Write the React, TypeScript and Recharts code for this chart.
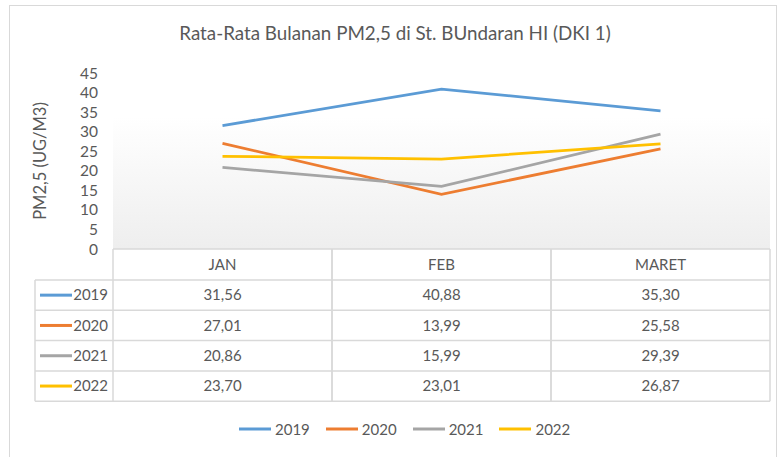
import React from 'react';
import { LineChart, Line, XAxis, YAxis, Legend, CartesianGrid } from 'recharts';

const TITLE = 'Rata-Rata Bulanan PM2,5 di St. BUndaran HI (DKI 1)';
const Y_LABEL = 'PM2,5 (UG/M3)';
const CATEGORIES = ['JAN', 'FEB', 'MARET'];
const YEARS = ['2019', '2020', '2021', '2022'];
const V2019 = [31.56, 40.88, 35.3];
const V2020 = [27.01, 13.99, 25.58];
const V2021 = [20.86, 15.99, 29.39];
const V2022 = [23.7, 23.01, 26.87];
const SERIES_VALUES = [V2019, V2020, V2021, V2022];
const COLORS = ['#5B9BD5', '#ED7D31', '#A5A5A5', '#FFC000'];
const Y_TICKS = [0, 5, 10, 15, 20, 25, 30, 35, 40, 45];

const data = CATEGORIES.map((c, i) => {
  const row: Record<string, string | number> = { name: c };
  YEARS.forEach((y, s) => {
    row[y] = SERIES_VALUES[s][i];
  });
  return row;
});

const W = 782;
const H = 457;
const FONT = 'Lato, "Open Sans", sans-serif';
const TEXT = '#595959';
const GRID = '#d9d9d9';
const MARGIN = { top: 73, right: 12, bottom: 55, left: 0 };
const Y_AXIS_W = 113;
const X_AXIS_H = 153;
const PLOT_LEFT = MARGIN.left + Y_AXIS_W;
const PLOT_W = W - MARGIN.right - PLOT_LEFT;
const TABLE_TOP = H - MARGIN.bottom - X_AXIS_H;
const HEADER_H = 31;
const ROW_H = 30.3;
const KEY_LEFT = 35;

const fmt = (v: number) => v.toFixed(2).replace('.', ',');

function TableTick(props: any) {
  const { x, payload } = props;
  const idx = CATEGORIES.indexOf(payload.value);
  const bw = PLOT_W / CATEGORIES.length;
  const left = x - bw / 2;
  const right = x + bw / 2;
  const rowsTop = TABLE_TOP + HEADER_H;
  const bottom = rowsTop + ROW_H * YEARS.length;
  const els: React.ReactNode[] = [];
  els.push(<line key="ht" x1={left} x2={right} y1={TABLE_TOP} y2={TABLE_TOP} stroke={GRID} strokeWidth={1.5} />);
  for (let r = 0; r <= YEARS.length; r++) {
    const yy = rowsTop + r * ROW_H;
    els.push(<line key={'h' + r} x1={left} x2={right} y1={yy} y2={yy} stroke={GRID} strokeWidth={1.5} />);
  }
  els.push(<line key="vl" x1={left} x2={left} y1={TABLE_TOP} y2={bottom} stroke={GRID} strokeWidth={1.5} />);
  els.push(<line key="vr" x1={right} x2={right} y1={TABLE_TOP} y2={bottom} stroke={GRID} strokeWidth={1.5} />);
  els.push(
    <text key="hdr" x={x} y={TABLE_TOP + HEADER_H / 2} dy="0.35em" textAnchor="middle" fontSize={15} fill={TEXT} fontFamily={FONT}>
      {payload.value}
    </text>
  );
  YEARS.forEach((yr, s) => {
    const cy = rowsTop + s * ROW_H + ROW_H / 2;
    els.push(
      <text key={'v' + s} x={x} y={cy} dy="0.35em" textAnchor="middle" fontSize={15} fill={TEXT} fontFamily={FONT}>
        {fmt(SERIES_VALUES[s][idx])}
      </text>
    );
  });
  if (idx === 0) {
    els.push(<line key="kl" x1={KEY_LEFT} x2={KEY_LEFT} y1={rowsTop} y2={bottom} stroke={GRID} strokeWidth={1.5} />);
    for (let r = 0; r <= YEARS.length; r++) {
      const yy = rowsTop + r * ROW_H;
      els.push(<line key={'kh' + r} x1={KEY_LEFT} x2={left} y1={yy} y2={yy} stroke={GRID} strokeWidth={1.5} />);
    }
    YEARS.forEach((yr, s) => {
      const cy = rowsTop + s * ROW_H + ROW_H / 2;
      els.push(<line key={'kk' + s} x1={KEY_LEFT + 5} x2={KEY_LEFT + 37} y1={cy} y2={cy} stroke={COLORS[s]} strokeWidth={3} />);
      els.push(
        <text key={'kt' + s} x={left - 5} y={cy} dy="0.35em" textAnchor="end" fontSize={15} fill={TEXT} fontFamily={FONT}>
          {yr}
        </text>
      );
    });
  }
  return <g>{els}</g>;
}

function LegendContent() {
  return (
    <div style={{ display: 'flex', alignItems: 'center', fontFamily: FONT, fontSize: 15, color: TEXT }}>
      {YEARS.map((yr, s) => (
        <div key={yr} style={{ display: 'flex', alignItems: 'center', marginRight: 15 }}>
          <svg width={34} height={6} style={{ marginRight: 3 }}>
            <line x1={1} x2={33} y1={3} y2={3} stroke={COLORS[s]} strokeWidth={3} />
          </svg>
          <span>{yr}</span>
        </div>
      ))}
    </div>
  );
}

export default function App() {
  return (
    <div style={{ position: 'absolute', left: 0, top: 0, width: W, height: H, overflow: 'hidden', background: '#fff' }}>
      <div style={{ position: 'absolute', left: 9, top: 5, width: 768, height: 480, border: '1px solid #d9d9d9', boxSizing: 'border-box' }} />
      <div style={{ position: 'absolute', left: 0, top: 0 }}>
        <LineChart width={W} height={H} data={data} margin={MARGIN}>
          <defs>
            <linearGradient id="plotBg" x1="0" y1="0" x2="0" y2="1">
              <stop offset="0%" stopColor="#ffffff" />
              <stop offset="25%" stopColor="#ffffff" />
              <stop offset="100%" stopColor="#eeeeee" />
            </linearGradient>
          </defs>
          <CartesianGrid horizontal={false} vertical={false} fill="url(#plotBg)" stroke="none" />
          <XAxis
            dataKey="name"
            scale="band"
            height={X_AXIS_H}
            axisLine={false}
            tickLine={false}
            interval={0}
            tick={(p: any) => <TableTick {...p} />}
          />
          <YAxis
            width={Y_AXIS_W}
            domain={[0, 45]}
            ticks={Y_TICKS}
            axisLine={false}
            tickLine={false}
            tickSize={0}
            tickMargin={15}
            interval={0}
            tick={{ fontSize: 15.5, fill: TEXT, fontFamily: FONT }}
          />
          {YEARS.map((yr, s) => (
            <Line key={yr} type="linear" dataKey={yr} stroke={COLORS[s]} strokeWidth={2.75} dot={false} isAnimationActive={false} />
          ))}
          <Legend
            layout="horizontal"
            verticalAlign="middle"
            align="center"
            content={() => <LegendContent />}
            wrapperStyle={{ top: 420, left: 238, width: 'auto' }}
          />
        </LineChart>
      </div>
      <div style={{ position: 'absolute', left: 0, top: 21, width: 790, textAlign: 'center', fontFamily: FONT, fontSize: 18.8, color: TEXT, whiteSpace: 'nowrap' }}>
        {TITLE}
      </div>
      <div
        style={{
          position: 'absolute',
          left: 40,
          top: 161,
          transform: 'translate(-50%, -50%) rotate(-90deg)',
          fontFamily: FONT,
          fontSize: 16.5,
          color: TEXT,
          whiteSpace: 'nowrap',
        }}
      >
        {Y_LABEL}
      </div>
    </div>
  );
}
